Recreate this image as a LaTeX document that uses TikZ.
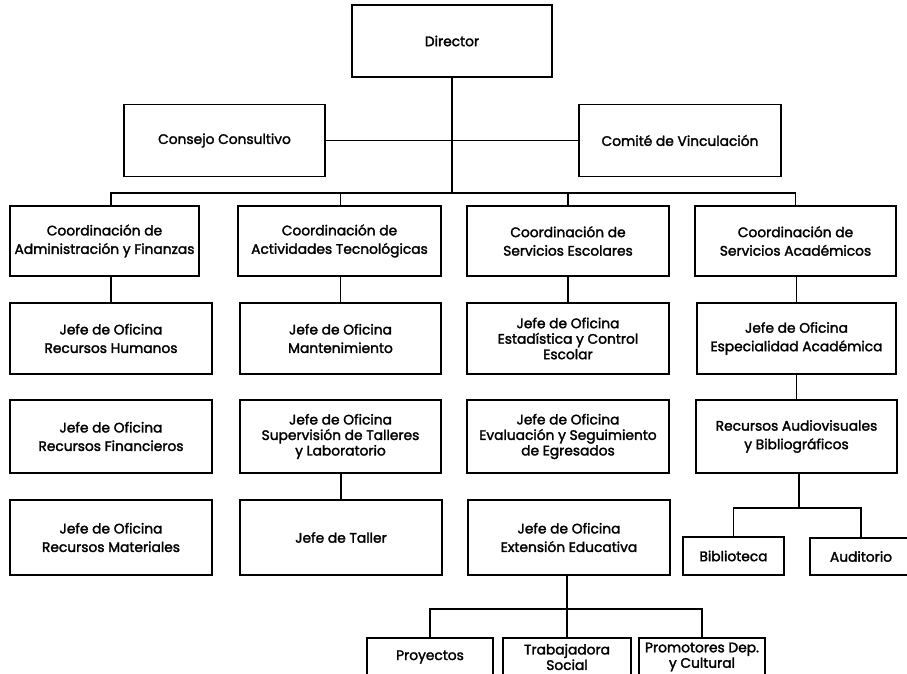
\documentclass[tikz,border=0pt]{standalone}
\usepackage{fontspec}
\setmainfont{Poppins}[FakeBold=2]
\begin{document}
\begin{tikzpicture}[x=1pt,y=-1pt,
  box/.style={draw=black, line width=1.6pt, inner sep=0pt, align=center,
    font=\fontsize{13.8}{18.5}\selectfont, text=black},
  tight/.style={font=\fontsize{13.8}{15.5}\selectfont},
  conn/.style={draw=black, line width=1.5pt}]
\useasboundingbox (0,0) rectangle (907,674);
\clip (0,0) rectangle (907,674);
% top
\node[box, minimum width=200pt, minimum height=72pt] (dir) at (452,41) {Director};
\node[box, minimum width=201pt, minimum height=72pt] (cons) at (224.5,140.5) {Consejo Consultivo};
\node[box, minimum width=202pt, minimum height=72pt] (comi) at (680,140.5) {Comité de Vinculación};
% coordination row
\node[box, minimum width=189pt, minimum height=70pt] (ca) at (104.5,241) {Coordinación de\\Administración y Finanzas};
\node[box, minimum width=203pt, minimum height=70pt] (ct) at (339.5,241) {Coordinación de\\Actividades Tecnológicas};
\node[box, minimum width=202pt, minimum height=70pt] (ce) at (568,241) {Coordinación de\\Servicios Escolares};
\node[box, minimum width=201pt, minimum height=70pt] (cac) at (795.5,241) {Coordinación de\\Servicios Académicos};
% row 2
\node[box, minimum width=202pt, minimum height=71pt] (rh) at (111,338.5) {Jefe de Oficina\\Recursos Humanos};
\node[box, minimum width=201pt, minimum height=71pt] (man) at (340.5,338.5) {Jefe de Oficina\\Mantenimiento};
\node[box, tight, minimum width=202pt, minimum height=71pt] (est) at (568,338.5) {Jefe de Oficina\\Estadística y Control\\Escolar};
\node[box, minimum width=199pt, minimum height=71pt] (esp) at (796.5,338.5) {Jefe de Oficina\\Especialidad Académica};
% row 3
\node[box, minimum width=202pt, minimum height=73pt] (rf) at (111,436.5) {Jefe de Oficina\\Recursos Financieros};
\node[box, tight, minimum width=201pt, minimum height=73pt] (sup) at (340.5,436.5) {Jefe de Oficina\\Supervisión de Talleres\\y Laboratorio};
\node[box, tight, minimum width=202pt, minimum height=73pt] (eva) at (568,436.5) {Jefe de Oficina\\Evaluación y Seguimiento\\de Egresados};
\node[box, minimum width=201pt, minimum height=73pt] (rav) at (796.5,436.5) {Recursos Audiovisuales\\y Bibliográficos};
% row 4
\node[box, minimum width=202pt, minimum height=75pt] (rm) at (111,537.5) {Jefe de Oficina\\Recursos Materiales};
\node[box, minimum width=202pt, minimum height=75pt] (tal) at (341,537.5) {Jefe de Taller};
\node[box, minimum width=202pt, minimum height=75pt] (ext) at (569,537.5) {Jefe de Oficina\\Extensión Educativa};
\node[box, minimum width=101pt, minimum height=38pt] (bib) at (733.5,556) {Biblioteca};
\node[box, minimum width=102pt, minimum height=37pt] (aud) at (861,556.5) {Auditorio};
% row 5
\node[box, minimum width=126pt, minimum height=38pt] (proj) at (430,657) {Proyectos};
\node[box, tight, minimum width=128pt, minimum height=38pt] (trab) at (567,657) {Trabajadora\\Social};
\node[box, tight, minimum width=126pt, minimum height=38pt] (prom) at (702,657) {Promotores Dep.\\y Cultural};
% bus coordinates
\coordinate (bus) at (453,193);
\coordinate (bus2) at (799,508);
\coordinate (bus3) at (567,609);
% connectors
\draw[conn] (dir.south) -- (dir.south |- bus);
\draw[conn] (cons.east) -- (comi.west);
\draw[conn] (rh.north |- ca.north) |- (cac.north |- bus) -- (cac.north);
\draw[conn] (man.north |- ct.north) -- (man.north |- bus);
\draw[conn] (ce.north) -- (ce.north |- bus);
\draw[conn] (rh.north) -- (rh.north |- ca.south);
\draw[conn] (man.north) -- (man.north |- ct.south);
\draw[conn] (est.north) -- (ce.south);
\draw[conn] (esp.north) -- (esp.north |- cac.south);
\draw[conn] (rav.north) -- (rav.north |- esp.south);
\draw[conn] (tal.north) -- (tal.north |- sup.south);
\draw[conn] (bus2 |- rav.south) -- (bus2);
\draw[conn] (bib.north) |- (bus2) -| (aud.north);
\draw[conn] (bus3 |- ext.south) -- (bus3);
\draw[conn] (proj.north) |- (bus3) -| (prom.north);
\draw[conn] (trab.north) -- (bus3);
\end{tikzpicture}
\end{document}
